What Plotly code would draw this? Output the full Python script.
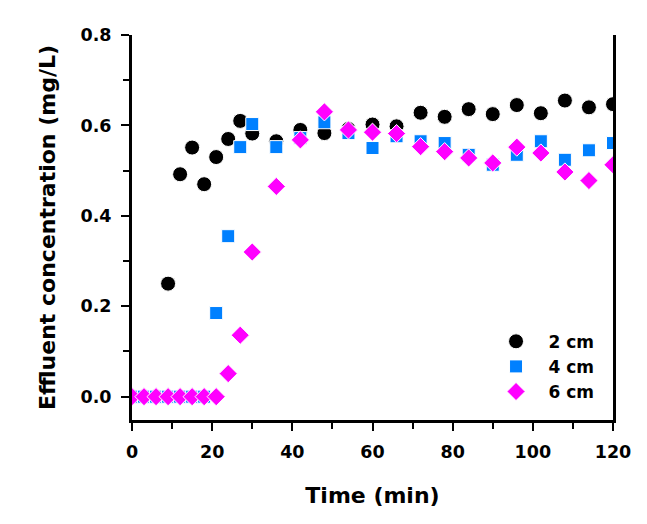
import plotly.graph_objects as go

time_2cm = [0, 3, 6, 9, 12, 15, 18, 21, 24, 27, 30, 36, 42, 48, 54, 60, 66, 72, 78, 84, 90, 96, 102, 108, 114, 120]
conc_2cm = [0, 0, 0, 0.25, 0.492, 0.551, 0.470, 0.530, 0.570, 0.610, 0.582, 0.565, 0.590, 0.583, 0.592, 0.602,
            0.598, 0.628, 0.619, 0.636, 0.625, 0.645, 0.627, 0.655, 0.640, 0.647]

time_4cm = [0, 3, 6, 9, 12, 15, 18, 21, 24, 27, 30, 36, 42, 48, 54, 60, 66, 72, 78, 84, 90, 96, 102, 108, 114, 120]
conc_4cm = [0, 0, 0, 0, 0, 0, 0, 0.185, 0.355, 0.552, 0.603, 0.552, 0.572, 0.607, 0.583, 0.550,
            0.576, 0.565, 0.561, 0.535, 0.513, 0.535, 0.565, 0.524, 0.545, 0.561]

time_6cm = [0, 3, 6, 9, 12, 15, 18, 21, 24, 27, 30, 36, 42, 48, 54, 60, 66, 72, 78, 84, 90, 96, 102, 108, 114, 120]
conc_6cm = [0, 0, 0, 0, 0, 0, 0, 0, 0.051, 0.136, 0.320, 0.465, 0.568, 0.630, 0.590, 0.585,
            0.582, 0.553, 0.542, 0.528, 0.517, 0.552, 0.539, 0.497, 0.478, 0.513]

names = ["2 cm", "4 cm", "6 cm"]

FONT = "DejaVu Sans, sans-serif"

fig = go.Figure()
fig.add_trace(go.Scatter(x=time_2cm, y=conc_2cm, mode="markers", name=names[0],
                         marker=dict(symbol="circle", size=15, color="black",
                                     line=dict(color="white", width=1))))
fig.add_trace(go.Scatter(x=time_4cm, y=conc_4cm, mode="markers", name=names[1],
                         marker=dict(symbol="square", size=13, color="#0080FF",
                                     line=dict(color="white", width=1))))
fig.add_trace(go.Scatter(x=time_6cm, y=conc_6cm, mode="markers", name=names[2],
                         marker=dict(symbol="diamond", size=14, color="#FF00FF",
                                     line=dict(color="white", width=1))))

fig.update_layout(
    width=647, height=524,
    margin=dict(l=132, r=34, t=35, b=104),
    plot_bgcolor="white", paper_bgcolor="white",
    font=dict(family=FONT, color="black"),
    showlegend=True,
    legend=dict(x=0.972, y=0.25, xanchor="right", yanchor="top",
                font=dict(family=FONT, size=17, weight="bold", color="black"),
                bgcolor="rgba(0,0,0,0)", itemwidth=55),
    xaxis=dict(range=[0, 120], tickvals=[0, 20, 40, 60, 80, 100, 120],
               ticks="outside", ticklen=8, tickwidth=2, tickcolor="black",
               minor=dict(tickvals=[10, 30, 50, 70, 90, 110], ticks="outside", ticklen=6, tickwidth=2, tickcolor="black"),
               showline=True, linewidth=3, linecolor="black", showgrid=False, zeroline=False,
               tickfont=dict(family=FONT, size=17.5, weight="bold"),
               ticklabelstandoff=6,
               title=dict(text="Time (min)", font=dict(family=FONT, size=22, weight="bold"), standoff=27)),
    yaxis=dict(range=[-0.0516, 0.8], tickvals=[0, 0.2, 0.4, 0.6, 0.8], tickformat=".1f",
               ticks="outside", ticklen=8, tickwidth=2, tickcolor="black",
               minor=dict(tickvals=[0.1, 0.3, 0.5, 0.7], ticks="outside", ticklen=6, tickwidth=2, tickcolor="black"),
               showline=True, linewidth=3, linecolor="black", mirror=True, showgrid=False, zeroline=False,
               tickfont=dict(family=FONT, size=17.5, weight="bold"),
               ticklabelstandoff=6,
               title=dict(text="Effluent concentration (mg/L)", font=dict(family=FONT, size=22, weight="bold"), standoff=19)),
)

fig.write_html("out.html")
